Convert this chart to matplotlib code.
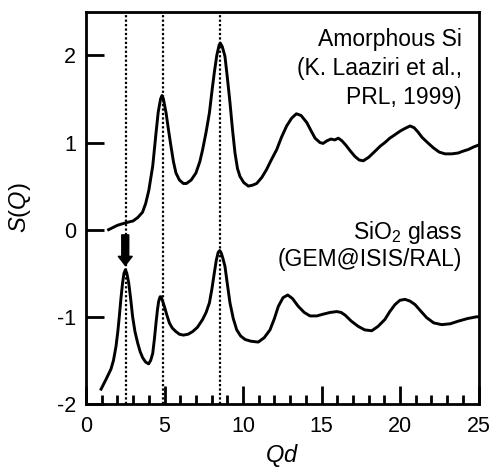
import matplotlib
matplotlib.use("Agg")
import matplotlib.pyplot as plt
from matplotlib.ticker import MultipleLocator

plt.rcParams["font.family"] = ["Liberation Sans", "DejaVu Sans"]
plt.rcParams["mathtext.fontset"] = "custom"
plt.rcParams["mathtext.rm"] = "Liberation Sans"
plt.rcParams["mathtext.it"] = "Liberation Sans:italic"
plt.rcParams["axes.unicode_minus"] = False

# amorphous Si, S(Q)
asi_x = [1.44, 2.0, 2.55, 3.0, 3.3, 3.6, 3.8, 4.0, 4.25, 4.46,
         4.6, 4.75, 4.84, 4.93, 5.1, 5.25, 5.41, 5.57, 5.73, 5.95,
         6.2, 6.4, 6.7, 7.0, 7.25, 7.43, 7.65, 7.86, 8.03, 8.17,
         8.33, 8.48, 8.56, 8.68, 8.85, 9.0, 9.17, 9.33, 9.49, 9.65,
         9.81, 10.05, 10.34, 10.6, 10.87, 11.2, 11.5, 11.8, 12.15, 12.45,
         12.78, 13.1, 13.4, 13.7, 14.06, 14.35, 14.59, 14.9, 15.1, 15.35,
         15.6, 15.85, 16.07, 16.3, 16.55, 16.85, 17.13, 17.4, 17.66, 18.0,
         18.41, 18.75, 19.04, 19.35, 19.68, 20.0, 20.3, 20.64, 20.9, 21.15,
         21.4, 21.75, 22.12, 22.5, 22.87, 23.3, 23.71, 24.0, 24.35, 24.7,
         24.99]
asi_y = [0.0, 0.05, 0.08, 0.10, 0.14, 0.2, 0.3, 0.45, 0.73, 1.11,
         1.35, 1.5, 1.54, 1.5, 1.34, 1.15, 0.96, 0.78, 0.65, 0.57,
         0.53, 0.53, 0.57, 0.65, 0.78, 0.92, 1.12, 1.34, 1.6, 1.8,
         2.0, 2.12, 2.14, 2.1, 1.99, 1.75, 1.46, 1.15, 0.88, 0.7,
         0.61, 0.54, 0.50, 0.51, 0.53, 0.6, 0.69, 0.8, 0.92, 1.06,
         1.19, 1.28, 1.33, 1.31, 1.23, 1.13, 1.05, 1.0, 0.99, 1.02,
         1.04, 1.03, 1.05, 1.02, 0.97, 0.9, 0.84, 0.80, 0.79, 0.83,
         0.90, 0.96, 1.0, 1.05, 1.09, 1.13, 1.16, 1.19, 1.17, 1.12,
         1.06, 1.0, 0.94, 0.89, 0.87, 0.87, 0.88, 0.9, 0.92, 0.95,
         0.97]

# SiO2 glass, S(Q) shifted down by 1
sio2_x = [0.96, 1.27, 1.59, 1.75, 1.91, 2.02, 2.12, 2.22, 2.33, 2.42,
          2.51, 2.6, 2.72, 2.85, 2.97, 3.12, 3.29, 3.45, 3.61, 3.8,
          3.99, 4.12, 4.25, 4.36, 4.46, 4.55, 4.63, 4.72, 4.78, 4.88,
          4.99, 5.15, 5.31, 5.5, 5.73, 5.95, 6.2, 6.5, 6.79, 7.1,
          7.43, 7.65, 7.86, 8.02, 8.17, 8.3, 8.42, 8.52, 8.62, 8.72,
          8.85, 9.0, 9.17, 9.38, 9.6, 9.85, 10.13, 10.5, 10.97, 11.35,
          11.72, 12.0, 12.25, 12.55, 12.85, 13.15, 13.52, 13.9, 14.27, 14.7,
          15.1, 15.55, 15.97, 16.25, 16.5, 16.9, 17.34, 17.75, 18.2, 18.6,
          19.04, 19.35, 19.68, 20.0, 20.32, 20.64, 20.96, 21.3, 21.7, 22.15,
          22.66, 23.2, 23.71, 24.3, 24.88, 25.0]
sio2_y = [-1.83, -1.72, -1.6, -1.5, -1.34, -1.18, -1.0, -0.8, -0.61, -0.5,
          -0.46, -0.5, -0.61, -0.8, -1.0, -1.17, -1.30, -1.4, -1.47, -1.52,
          -1.54, -1.5, -1.42, -1.25, -1.07, -0.92, -0.82, -0.77, -0.77, -0.82,
          -0.88, -0.98, -1.07, -1.13, -1.17, -1.2, -1.21, -1.2, -1.17, -1.12,
          -1.03, -0.95, -0.84, -0.68, -0.50, -0.35, -0.26, -0.24, -0.27, -0.33,
          -0.42, -0.62, -0.84, -1.02, -1.15, -1.22, -1.26, -1.28, -1.29, -1.24,
          -1.15, -1.02, -0.88, -0.78, -0.75, -0.79, -0.88, -0.95, -0.99, -0.99,
          -0.97, -0.95, -0.94, -0.95, -0.98, -1.05, -1.11, -1.15, -1.16, -1.11,
          -1.03, -0.94, -0.86, -0.81, -0.80, -0.82, -0.86, -0.93, -1.01, -1.07,
          -1.09, -1.08, -1.05, -1.02, -1.00, -1.0]

# dotted guide lines and the arrow
guide_x = [2.55, 4.93, 8.56]
arrow_x = 2.5
arrow_from = -0.06
arrow_to = -0.41

asi_label = ["Amorphous Si", "(K. Laaziri et al.,", "PRL, 1999)"]
sio2_label = ["SiO$_2$ glass", "(GEM@ISIS/RAL)"]

fig = plt.figure(figsize=(5, 4.73), dpi=100)
ax = fig.add_axes([0.172, 0.146, 0.785, 0.829])

for gx in guide_x:
    ax.axvline(gx, color="black", lw=1.6, ls=(0, (1, 1)), zorder=1)

ax.plot(asi_x, asi_y, color="black", lw=2.1, zorder=3)
ax.plot(sio2_x, sio2_y, color="black", lw=2.1, zorder=3)

ax.annotate("", xy=(arrow_x, arrow_to), xytext=(arrow_x, arrow_from),
            arrowprops=dict(arrowstyle="simple,head_length=0.65,head_width=1.0,tail_width=0.5",
                            mutation_scale=10, color="black", shrinkA=0, shrinkB=0))

# texts, one line at a time
for i, s in enumerate(asi_label):
    ax.text(23.93, 2.107 - i * 0.33, s, ha="right", va="baseline", fontsize=16.5)
for i, s in enumerate(sio2_label):
    ax.text(23.93, -0.107 - i * 0.315, s, ha="right", va="baseline", fontsize=16.5)

ax.set_xlim(0, 25)
ax.set_ylim(-2, 2.5)
ax.set_xticks([0, 5, 10, 15, 20, 25])
ax.set_yticks([-2, -1, 0, 1, 2])
ax.xaxis.set_minor_locator(MultipleLocator(1))

ax.tick_params(axis="both", which="major", direction="in", length=13, width=2,
               labelsize=15.5)
ax.tick_params(axis="x", which="major", pad=9)
ax.tick_params(axis="y", which="major", pad=7)
ax.tick_params(axis="x", which="minor", direction="in", length=6.5, width=2)
for sp in ax.spines.values():
    sp.set_linewidth(2)

ax.set_xlabel("$Qd$", fontsize=17)
ax.set_ylabel("$S(Q)$", fontsize=17)
ax.xaxis.set_label_coords(0.5, -0.097)
ax.yaxis.set_label_coords(-0.135, 0.5)

fig.savefig("out.png", dpi=100)
